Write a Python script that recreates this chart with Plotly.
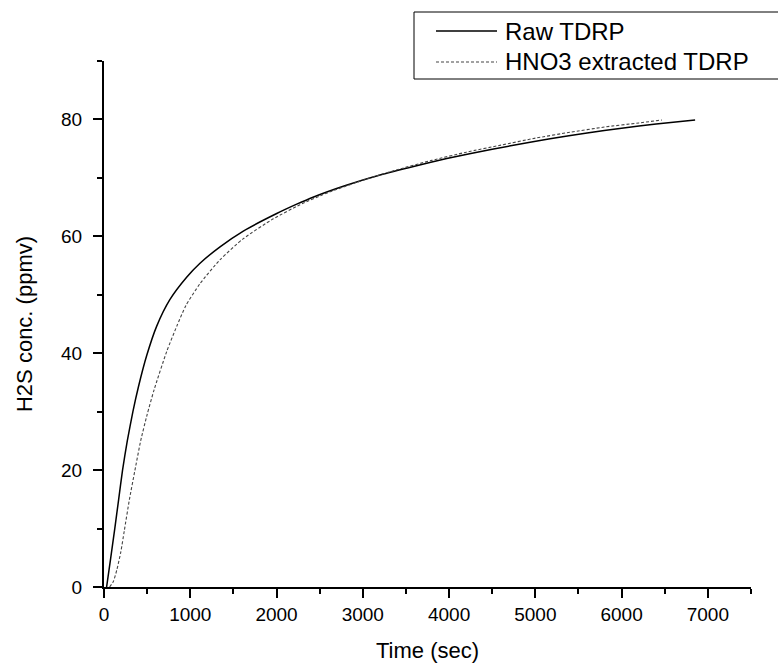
import plotly.graph_objects as go

# Raw TDRP (solid)
raw_t = [30, 78, 125, 170, 215, 270, 335, 400, 495, 610, 765, 958, 1113, 1345, 1615, 2002,
         2234, 2423, 2800, 3200, 3600, 3973, 4500, 4939, 5171, 5600, 6000, 6400, 6852]
raw_y = [0, 5, 10, 15, 20, 25, 30, 34.3, 39.6, 44.6, 49.2, 53.0, 55.4, 58.2, 60.9, 63.9,
         65.5, 66.7, 68.7, 70.5, 72.0, 73.3, 74.9, 76.1, 76.7, 77.7, 78.5, 79.2, 79.9]

# HNO3 extracted TDRP (dashed)
hno_t = [65, 110, 150, 195, 235, 295, 359, 425, 500, 580, 727, 843, 951, 1113, 1345, 1615, 1963,
         2272, 2600, 3000, 3400, 3800, 4200, 4600, 5000, 5400, 5800, 6200, 6466]
hno_y = [0, 1, 3, 6, 9.6, 15, 20, 25, 29.5, 33.7, 40.3, 44.6, 48.2, 51.9, 56.0, 59.6, 63.0,
         65.4, 67.5, 69.6, 71.4, 73.0, 74.4, 75.6, 76.8, 77.8, 78.7, 79.4, 79.9]

series_names = ["Raw TDRP", "HNO3 extracted TDRP"]
x_title = "Time (sec)"
y_title = "H2S conc. (ppmv)"

FONT = "Liberation Sans, Arial, sans-serif"
W, H = 778, 666
L, R, T, B = 104, 27, 61, 79
PW, PH = W - L - R, H - T - B


def px(xp):
    return (xp - L) / PW


def py(yp):
    return (H - B - yp) / PH


fig = go.Figure()
fig.add_trace(go.Scatter(x=raw_t, y=raw_y, mode="lines", name=series_names[0],
                         line=dict(color="black", width=1.5, shape="spline", smoothing=0.6)))
fig.add_trace(go.Scatter(x=hno_t, y=hno_y, mode="lines", name=series_names[1],
                         line=dict(color="#444444", width=1.1, dash="3px,2px",
                                   shape="spline", smoothing=0.6)))

axis_common = dict(showgrid=False, zeroline=False, showline=True, linecolor="black",
                   linewidth=2, ticks="outside", ticklen=9, tickwidth=2, tickcolor="black",
                   tickfont=dict(family=FONT, size=19, color="black"), mirror=False)

fig.update_xaxes(range=[0, 7500], dtick=1000, tick0=0,
                 minor=dict(ticks="outside", ticklen=5, tickwidth=2, tickcolor="black", dtick=500),
                 title=dict(text=x_title, font=dict(family=FONT, size=22, color="black"), standoff=19),
                 **axis_common)
fig.update_yaxes(range=[0, 90], dtick=20, tick0=0, ticklabelstandoff=7,
                 minor=dict(ticks="outside", ticklen=5, tickwidth=2, tickcolor="black", dtick=10),
                 title=dict(text=y_title, font=dict(family=FONT, size=22, color="black"), standoff=22),
                 **axis_common)

# legend drawn manually (box extends to the figure edge like the reference)
shapes = [
    dict(type="rect", xref="paper", yref="paper", x0=px(414), x1=px(790), y0=py(79), y1=py(12),
         line=dict(color="black", width=1), fillcolor="white", layer="above"),
    dict(type="line", xref="paper", yref="paper", x0=px(436), x1=px(497), y0=py(31), y1=py(31),
         line=dict(color="black", width=1.5)),
    dict(type="line", xref="paper", yref="paper", x0=px(436), x1=px(497), y0=py(62), y1=py(62),
         line=dict(color="#444444", width=1.1, dash="3px,2px")),
]
annotations = [
    dict(xref="paper", yref="paper", x=px(503), y=py(31), text=series_names[0], showarrow=False,
         xanchor="left", yanchor="middle", font=dict(family=FONT, size=24, color="black")),
    dict(xref="paper", yref="paper", x=px(503), y=py(62), text=series_names[1], showarrow=False,
         xanchor="left", yanchor="middle", font=dict(family=FONT, size=24, color="black")),
]

fig.update_layout(width=W, height=H, margin=dict(l=L, r=R, t=T, b=B, autoexpand=False),
                  paper_bgcolor="white", plot_bgcolor="white", showlegend=False,
                  shapes=shapes, annotations=annotations)

fig.write_html("out.html")
